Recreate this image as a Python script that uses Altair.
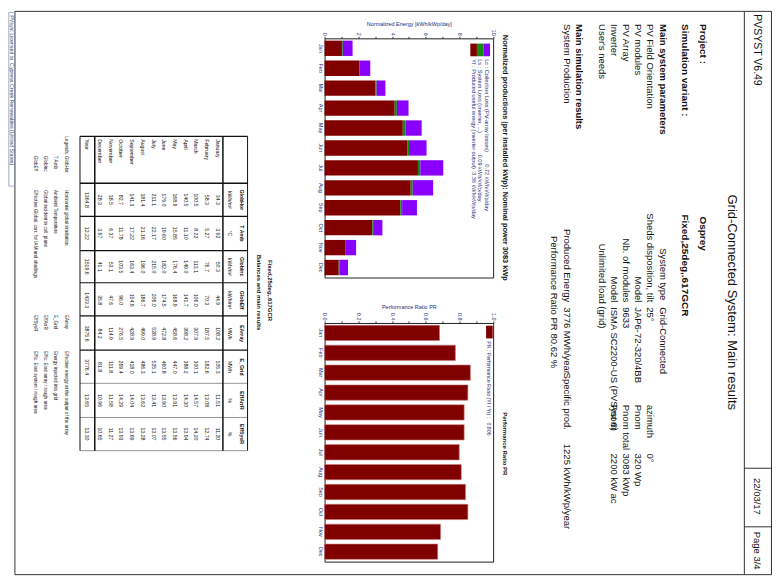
import altair as alt
import pandas as pd

FONT = "Liberation Sans"
NAVY = "#1f2d7a"
INK = "#111111"
RED = "#800000"
GREEN = "#138a13"
PURPLE = "#8a00ff"

# ---------------- data ----------------
MONTHS = ["Jan", "Feb", "Mar", "Apr", "May", "Jun", "Jul", "Aug", "Sep", "Oct", "Nov", "Dec"]
MONTH_NAMES = ["January", "February", "March", "April", "May", "June", "July",
               "August", "September", "October", "November", "December"]

# normalized productions (kWh/kWp/day)
YF = [1.03, 2.05, 3.02, 4.16, 4.64, 4.90, 5.54, 5.11, 4.49, 2.83, 1.21, 0.84]
LS = [0.05, 0.05, 0.07, 0.13, 0.16, 0.11, 0.14, 0.12, 0.11, 0.10, 0.06, 0.06]
LC = [0.58, 0.61, 0.52, 0.69, 0.96, 1.04, 1.36, 1.21, 0.88, 0.50, 0.60, 0.49]
# performance ratio
PR = [0.682, 0.776, 0.865, 0.850, 0.828, 0.828, 0.799, 0.811, 0.836, 0.850, 0.688, 0.671]

# balances and main results table
TABLE_VARS = ["GlobHor", "T Amb", "GlobInc", "GlobEff", "EArray", "E_Grid", "EffArrR", "EffSysR"]
TABLE_UNITS = ["kWh/m²", "°C", "kWh/m²", "kWh/m²", "MWh", "MWh", "%", "%"]
GLOBHOR = [34.3, 58.3, 100.5, 140.5, 168.9, 179.0, 211.1, 181.4, 141.3, 82.7, 38.5, 28.3]
T_AMB = [3.92, 5.27, 8.22, 11.10, 15.85, 19.60, 22.17, 21.16, 17.22, 11.78, 6.37, 3.97]
GLOBINC = [50.3, 76.7, 113.1, 149.0, 176.4, 182.0, 215.0, 196.0, 163.4, 103.5, 53.1, 41.1]
GLOBEFF = [44.9, 70.3, 106.0, 141.7, 168.9, 174.5, 206.0, 186.7, 154.9, 96.0, 47.6, 35.8]
EARRAY = [108.2, 187.5, 307.9, 398.2, 458.6, 472.8, 538.9, 499.0, 428.9, 276.5, 114.9, 84.2]
E_GRID = [105.3, 182.6, 300.1, 388.2, 447.0, 460.8, 525.1, 486.3, 418.0, 269.4, 111.8, 81.8]
EFF_ARR = [11.51, 13.08, 14.57, 14.30, 13.91, 13.90, 13.41, 13.62, 14.04, 14.29, 11.58, 10.96]
EFF_SYS = [11.20, 12.74, 14.20, 13.94, 13.56, 13.55, 13.07, 13.28, 13.69, 13.93, 11.27, 10.65]
YEAR = [1364.8, 12.22, 1519.6, 1433.3, 3875.6, 3776.4, 13.65, 13.30]
DECIMALS = [1, 2, 1, 1, 1, 1, 2, 2]
TABLE_COLS = [GLOBHOR, T_AMB, GLOBINC, GLOBEFF, EARRAY, E_GRID, EFF_ARR, EFF_SYS]

LEGEND_NAMES_1 = ["GlobHor", "T Amb", "GlobInc", "GlobEff"]
LEGEND_DESC_1 = ["Horizontal global irradiation", "Ambient Temperature",
                 "Global incident in coll. plane", "Effective Global, corr. for IAM and shadings"]
LEGEND_NAMES_2 = ["EArray", "E_Grid", "EffArrR", "EffSysR"]
LEGEND_DESC_2 = ["Effective energy at the output of the array", "Energy injected into grid",
                 "Effic. Eout array / rough area", "Effic. Eout system / rough area"]

NBSP = "\u00a0"


# ---------------- layout (reference page units -> pixels) ----------------
def X(r):
    return round((r - 3) * 0.987, 2)


def Y(r):
    return round((r - 2) * 0.9775, 2)


PLOT_L = X(321.7)
PLOT_R = X(492.7)
WM = round(PLOT_R - PLOT_L, 2)
N_TOP, N_BOT = Y(29.5), Y(274.5)
P_TOP, P_BOT = Y(320.0), Y(564.5)
H_PAGE = Y(579) + 1

# text items: text, x-line, y-start/center, size, weight, align, colour
TEXTS = [
    ("PVSYST V6.49", 761, 5, 10.5, "normal", "left", INK),
    ("22/03/17", 761, 480, 9.5, "normal", "left", INK),
    ("Page 3/4", 761, 535, 9.5, "normal", "left", INK),
    ("Grid-Connected System: Main results", 735, 300, 13, "normal", "center", INK),
    ("Project :", 706, 15, 10, "bold", "left", INK),
    ("Osprey", 706, 212, 10, "bold", "left", INK),
    ("Simulation variant :", 688, 15, 10, "bold", "left", INK),
    ("Fixed,25deg,.617GCR", 688, 210, 10, "bold", "left", INK),
    ("Main system parameters", 665, 15, 9.5, "bold", "left", INK),
    ("System type", 665, 298, 9.5, "normal", "right", INK),
    ("Grid-Connected", 665, 305, 9.5, "normal", "left", INK),
    ("PV Field Orientation", 652, 15, 9.5, "normal", "left", INK),
    ("Sheds disposition, tilt", 652, 300, 9.5, "normal", "right", INK),
    ("25°", 652, 305, 9.5, "normal", "left", INK),
    ("azimuth", 652, 405, 9.5, "normal", "left", INK),
    ("0°", 652, 455, 9.5, "normal", "left", INK),
    ("PV modules", 640, 15, 9.5, "normal", "left", INK),
    ("Model", 640, 300, 9.5, "normal", "right", INK),
    ("JAP6-72-320/4BB", 640, 305, 9.5, "normal", "left", INK),
    ("Pnom", 640, 405, 9.5, "normal", "left", INK),
    ("320 Wp", 640, 455, 9.5, "normal", "left", INK),
    ("PV Array", 628, 15, 9.5, "normal", "left", INK),
    ("Nb. of modules", 628, 300, 9.5, "normal", "right", INK),
    ("9633", 628, 305, 9.5, "normal", "left", INK),
    ("Pnom total", 628, 405, 9.5, "normal", "left", INK),
    ("3083 kWp", 628, 455, 9.5, "normal", "left", INK),
    ("Inverter", 616, 15, 9.5, "normal", "left", INK),
    ("Model", 616, 300, 9.5, "normal", "right", INK),
    ("ISMA SC2200-US (PVSyst 6)", 616, 305, 9.5, "normal", "left", INK),
    ("Pnom", 616, 405, 9.5, "normal", "left", INK),
    ("2200 kW ac", 616, 455, 9.5, "normal", "left", INK),
    ("User's needs", 604, 15, 9.5, "normal", "left", INK),
    ("Unlimited load (grid)", 604, 240, 9.5, "normal", "left", INK),
    ("Main simulation results", 580, 15, 9.5, "bold", "left", INK),
    ("System Production", 568, 15, 9.5, "normal", "left", INK),
    ("Produced Energy", 568, 300, 9.5, "normal", "right", INK),
    ("3776 MWh/year", 568, 305, 9.5, "normal", "left", INK),
    ("Specific prod.", 568, 372, 9.5, "normal", "left", INK),
    ("1225 kWh/kWp/year", 568, 445, 9.5, "normal", "left", INK),
    ("Performance Ratio PR", 555, 232, 9.5, "normal", "left", INK),
    ("80.62 %", 555, 332, 9.5, "normal", "left", INK),
    ("Normalized productions (per installed kWp):  Nominal power 3083 kWp", 505, 152, 7.4, "bold", "center", INK),
    ("Performance Ratio PR", 505, 445, 6.0, "bold", "center", INK),
    ("Lc : Collection Loss (PV-array losses)" + NBSP * 8 + "0.72 kWh/kWp/day", 486.7, 51, 5.6, "normal", "left", NAVY),
    ("Ls : System Loss (inverter, ...)" + NBSP * 14 + "0.09 kWh/kWp/day", 480.0, 51, 5.6, "normal", "left", NAVY),
    ("Yf : Produced useful energy (inverter output)" + NBSP * 2 + "3.36 kWh/kWp/day", 473.3, 51, 5.6, "normal", "left", NAVY),
    ("PR : Performance Ratio (Yf / Yr) :" + NBSP * 3 + "0.806", 489.4, 340, 5.2, "normal", "left", NAVY),
    ("Fixed,25deg,.617GCR", 267, 288, 6, "bold", "center", INK),
    ("Balances and main results", 256, 290, 6, "bold", "center", INK),
    ("Year", 81.5, 133, 5.2, "normal", "left", INK),
    ("Legends:", 60, 130, 4.6, "normal", "left", INK),
    ("PVsyst Licensed to " + NBSP + "Cypress Creek Renewables (United States)", 5.0, 6, 5.3, "normal", "left", "#334466"),
]
LEG_LINES = [60, 49, 38, 28]
for i in range(4):
    TEXTS.append((LEGEND_NAMES_1[i], LEG_LINES[i], 150, 4.6, "normal", "left", INK))
    TEXTS.append((LEGEND_DESC_1[i], LEG_LINES[i], 185, 4.6, "normal", "left", INK))
    TEXTS.append((LEGEND_NAMES_2[i], LEG_LINES[i], 313, 4.6, "normal", "left", INK))
    TEXTS.append((LEGEND_DESC_2[i], LEG_LINES[i], 350, 4.6, "normal", "left", INK))

# rule segments: x1, y1, x2, y2, width, colour (reference units)
RULES = [
    (8, 2, 775.5, 2, 1, "#333"), (8, 579, 775.5, 579, 1, "#333"),
    (8, 2, 8, 579, 1, "#333"), (775.5, 2, 775.5, 579, 1, "#333"),
    (748, 2, 748, 579, 1, "#333"), (748, 470, 775.5, 470, 1, "#333"), (748, 530, 775.5, 530, 1, "#333"),
    # table grid
    (74, 130, 244, 130, 1.4, "#111"), (74, 178, 244, 178, 1.4, "#111"),
    (74, 212, 244, 212, 1.2, "#111"), (74, 247, 244, 247, 1.2, "#111"),
    (74, 280, 244, 280, 1.2, "#111"), (74, 314, 244, 314, 1.2, "#111"),
    (74, 349, 244, 349, 1.2, "#111"), (74, 383, 244, 383, 0.8, "#777"),
    (74, 418, 244, 418, 0.8, "#777"), (74, 452, 244, 452, 0.8, "#777"),
    (74, 130, 74, 452, 1.0, "#111"), (89, 130, 89, 452, 1.5, "#111"),
    (219, 130, 219, 452, 1.5, "#111"), (244, 130, 244, 452, 1.0, "#111"),
]
# filled boxes (legend keys): x1, y1, x2, y2, colour
BOXES = [
    (470.0, 35, 476.7, 48, RED), (476.7, 35, 483.4, 48, GREEN), (483.4, 35, 490.0, 48, PURPLE),
    (486.0, 324, 492.7, 337, RED),
]
FOOTER_BOX = (1.8, 3, 7.8, 181)

NO_FRAME = alt.ViewBackground(stroke="transparent", strokeWidth=0, strokeOpacity=0)


# ---------------- page layer ----------------
def text_layers(items):
    groups = {}
    for (t, rx, ry, size, weight, align, color) in items:
        groups.setdefault((weight, align), []).append(
            dict(text=t, x=X(rx), y=Y(ry), size=size, color=color))
    layers = []
    for (weight, align), rows in groups.items():
        layers.append(
            alt.Chart(pd.DataFrame(rows)).mark_text(
                angle=90, align=align, baseline="middle", fontWeight=weight, font=FONT
            ).encode(
                x=alt.X("x:Q", scale=None, axis=None),
                y=alt.Y("y:Q", scale=None, axis=None),
                text="text:N",
                size=alt.Size("size:Q", scale=None),
                color=alt.Color("color:N", scale=None),
            )
        )
    return layers


rules_df = pd.DataFrame([dict(x=X(a), y=Y(b), x2=X(c), y2=Y(d), w=w, c=col)
                         for (a, b, c, d, w, col) in RULES])
rules = alt.Chart(rules_df).mark_rule().encode(
    x=alt.X("x:Q", scale=None, axis=None), x2="x2:Q",
    y=alt.Y("y:Q", scale=None, axis=None), y2="y2:Q",
    strokeWidth=alt.StrokeWidth("w:Q", scale=None),
    color=alt.Color("c:N", scale=None),
)

boxes_df = pd.DataFrame([dict(x=X(a), y=Y(b), x2=X(c), y2=Y(d), c=col) for (a, b, c, d, col) in BOXES])
boxes = alt.Chart(boxes_df).mark_rect().encode(
    x=alt.X("x:Q", scale=None, axis=None), x2="x2:Q",
    y=alt.Y("y:Q", scale=None, axis=None), y2="y2:Q",
    color=alt.Color("c:N", scale=None),
)

fb = FOOTER_BOX
footer_df = pd.DataFrame([dict(x=X(fb[0]), y=Y(fb[1]), x2=X(fb[2]), y2=Y(fb[3]))])
footer_box = alt.Chart(footer_df).mark_rect(fillOpacity=0, stroke="#8a98b0", strokeWidth=0.8).encode(
    x=alt.X("x:Q", scale=None, axis=None), x2="x2:Q",
    y=alt.Y("y:Q", scale=None, axis=None), y2="y2:Q",
)

# table
tab_rows = []
for j, var in enumerate(TABLE_VARS):
    for i, m in enumerate(MONTH_NAMES):
        tab_rows.append(dict(month=m, var=var, text=f"{TABLE_COLS[j][i]:.{DECIMALS[j]}f}"))
tab_df = pd.DataFrame(tab_rows)
year_df = pd.DataFrame(dict(var=TABLE_VARS, text=[f"{v:.{d}f}" for v, d in zip(YEAR, DECIMALS)]))
head_df = pd.DataFrame(dict(var=TABLE_VARS, unit=TABLE_UNITS))
months_df = pd.DataFrame(dict(month=MONTH_NAMES))

month_scale = alt.Scale(domain=MONTH_NAMES[::-1], range=[X(89), X(219)], paddingInner=0, paddingOuter=0)
var_scale = alt.Scale(domain=TABLE_VARS, range=[Y(178), Y(452)], paddingInner=0, paddingOuter=0)
TAB_FS = 5.2

tab_values = alt.Chart(tab_df).mark_text(angle=90, align="center", baseline="middle", fontSize=TAB_FS,
                                         font=FONT, color=INK).encode(
    x=alt.X("month:N", scale=month_scale, axis=None),
    y=alt.Y("var:N", scale=var_scale, axis=None),
    text="text:N",
)
tab_months = alt.Chart(months_df).mark_text(angle=90, align="left", baseline="middle", fontSize=TAB_FS,
                                            font=FONT, color=INK).encode(
    x=alt.X("month:N", scale=month_scale, axis=None),
    y=alt.value(Y(133)),
    text="month:N",
)
tab_year = alt.Chart(year_df).mark_text(angle=90, align="center", baseline="middle", fontSize=TAB_FS,
                                        font=FONT, color=INK).encode(
    x=alt.value(X(81.5)),
    y=alt.Y("var:N", scale=var_scale, axis=None),
    text="text:N",
)
tab_head = alt.Chart(head_df).mark_text(angle=90, align="center", baseline="middle", fontSize=TAB_FS,
                                        fontWeight="bold", font=FONT, color=INK).encode(
    x=alt.value(X(238)),
    y=alt.Y("var:N", scale=var_scale, axis=None),
    text="var:N",
)
tab_unit = alt.Chart(head_df).mark_text(angle=90, align="center", baseline="middle", fontSize=TAB_FS,
                                        font=FONT, color=INK).encode(
    x=alt.value(X(226)),
    y=alt.Y("var:N", scale=var_scale, axis=None),
    text="unit:N",
)

page = alt.layer(
    rules, boxes, footer_box, *text_layers(TEXTS),
    tab_values, tab_months, tab_year, tab_head, tab_unit,
).resolve_scale(x="independent", y="independent").properties(
    width=PLOT_L, height=H_PAGE, view=NO_FRAME)

# ---------------- bar charts ----------------
norm_rows = []
for i, m in enumerate(MONTHS):
    norm_rows.append(dict(month=m, comp="Yf", value=YF[i], ord=0))
    norm_rows.append(dict(month=m, comp="Ls", value=LS[i], ord=1))
    norm_rows.append(dict(month=m, comp="Lc", value=LC[i], ord=2))
norm_df = pd.DataFrame(norm_rows)
pr_df = pd.DataFrame(dict(month=MONTHS, pr=PR))

AX_FS = 5.5


def month_axis():
    return alt.Axis(title=None, orient="left", labelAngle=90, labelAlign="center", labelBaseline="top",
                    labelFontSize=AX_FS, labelColor=NAVY, labelFont=FONT, ticks=False, domain=False,
                    labelPadding=2)


def value_axis(title, values, expr):
    return alt.Axis(orient="top", title=title, values=values, labelExpr=expr, labelAngle=90,
                    labelAlign="right", labelBaseline="middle", labelFontSize=AX_FS, labelColor=NAVY,
                    labelFont=FONT, labelFlush=False, labelOverlap=False, tickSize=2, tickColor="#333",
                    domain=False, grid=False, titleFontSize=AX_FS, titleFontWeight="normal",
                    titleColor=NAVY, titleFont=FONT, titlePadding=3, labelPadding=1)


band = alt.Scale(paddingInner=0.23, paddingOuter=0.115)
frame = alt.ViewBackground(stroke="#222", strokeWidth=1)

norm = alt.Chart(norm_df).mark_bar().encode(
    y=alt.Y("month:N", sort=MONTHS, scale=band, axis=month_axis()),
    x=alt.X("value:Q", stack="zero", scale=alt.Scale(domain=[0, 10], nice=False),
            axis=value_axis("Normalized Energy [kWh/kWp/day]", list(range(11)),
                            "datum.value % 2 == 0 ? datum.label : ''")),
    color=alt.Color("comp:N", scale=alt.Scale(domain=["Yf", "Ls", "Lc"], range=[RED, GREEN, PURPLE]),
                    legend=None),
    order=alt.Order("ord:Q"),
).properties(width=WM, height=round(N_BOT - N_TOP, 2), view=frame)

prc = alt.Chart(pr_df).mark_bar(color=RED, stroke="#c87878", strokeWidth=0.6).encode(
    y=alt.Y("month:N", sort=MONTHS, scale=band, axis=month_axis()),
    x=alt.X("pr:Q", scale=alt.Scale(domain=[0, 1], nice=False),
            axis=value_axis("Performance Ratio PR", [i / 10 for i in range(11)],
                            "round(datum.value * 10) % 2 == 0 ? format(datum.value, '.1f') : ''")),
).properties(width=WM, height=round(P_BOT - P_TOP, 2), view=frame)


def spacer(h):
    return alt.Chart(pd.DataFrame(dict(v=[0]))).mark_point(opacity=0).encode(
        x=alt.value(0), y=alt.value(0)).properties(width=WM, height=h, view=NO_FRAME)


middle = alt.vconcat(spacer(N_TOP), norm, spacer(round(P_TOP - N_BOT, 2)), prc,
                     spacing=0, bounds="flush")

chart = alt.hconcat(page, middle, spacing=0, bounds="flush").properties(
    padding=0, background="white"
).configure_view(stroke="transparent", strokeWidth=0).configure(font=FONT)

chart.save("out.html", embed_options={"renderer": "svg", "actions": False})
